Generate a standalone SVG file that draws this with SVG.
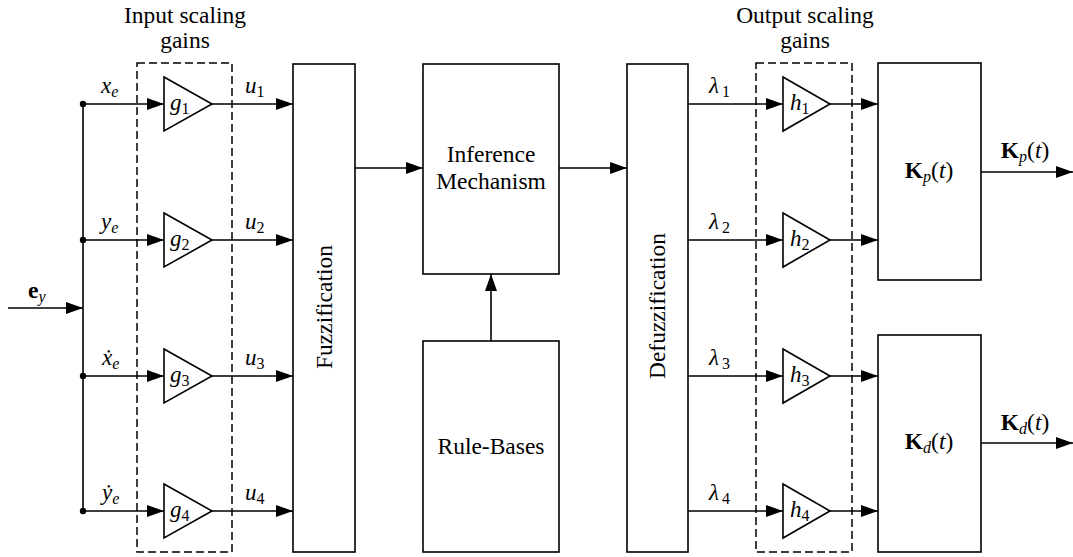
<svg xmlns="http://www.w3.org/2000/svg" width="1073" height="557" viewBox="0 0 1073 557" font-family="Liberation Serif">
  <style>
    .blk { fill: #fff; stroke: #000; stroke-width: 1.6; }
    .ln { fill: none; stroke: #000; stroke-width: 1.6; }
    .arr { fill: none; stroke: #000; stroke-width: 1.6; marker-end: url(#ah); }
    .dash { fill: none; stroke: #000; stroke-width: 1.5; stroke-dasharray: 8 4; }
    .t { font-family: "Liberation Serif", serif; font-size: 23.5px; fill: #000; }
    .m { font-family: "Liberation Serif", serif; font-size: 23px; font-style: italic; fill: #000; }
    .sub { font-size: 16px; font-style: normal; }
    .subi { font-size: 16px; font-style: italic; }
  </style>
  <defs>
    <marker id="ah" markerUnits="userSpaceOnUse" markerWidth="17" markerHeight="12" refX="17" refY="6" orient="auto">
      <path d="M0,0 L17,6 L0,12 Z" fill="#000"/>
    </marker>
  </defs>

  <rect width="1073" height="557" fill="#fff"/>

  <!-- group titles -->
  <text class="t" font-family="Liberation Serif" x="185" y="23" text-anchor="middle">Input scaling</text>
  <text class="t" font-family="Liberation Serif" x="185" y="48" text-anchor="middle">gains</text>
  <text class="t" font-family="Liberation Serif" x="805" y="23" text-anchor="middle">Output scaling</text>
  <text class="t" font-family="Liberation Serif" x="805" y="48" text-anchor="middle">gains</text>

  <!-- dashed frames around the gain stages -->
  <rect class="dash" x="137" y="63" width="95" height="489"/>
  <rect class="dash" x="756" y="63" width="96" height="489"/>

  <!-- connectors -->
  <g id="connectors">
    <line class="arr" x1="8" y1="308" x2="83" y2="308"/>
    <line class="ln" x1="83" y1="104" x2="83" y2="511"/>
    <circle cx="83" cy="104" r="3.2" fill="#000"/>
    <circle cx="83" cy="240" r="3.2" fill="#000"/>
    <circle cx="83" cy="376" r="3.2" fill="#000"/>
    <circle cx="83" cy="511" r="3.2" fill="#000"/>
    <line class="arr" x1="83" y1="104" x2="164" y2="104"/>
    <line class="arr" x1="83" y1="240" x2="164" y2="240"/>
    <line class="arr" x1="83" y1="376" x2="164" y2="376"/>
    <line class="arr" x1="83" y1="511" x2="164" y2="511"/>
    <line class="arr" x1="212" y1="104" x2="293" y2="104"/>
    <line class="arr" x1="212" y1="240" x2="293" y2="240"/>
    <line class="arr" x1="212" y1="376" x2="293" y2="376"/>
    <line class="arr" x1="212" y1="511" x2="293" y2="511"/>
    <line class="arr" x1="355" y1="168" x2="423" y2="168"/>
    <line class="arr" x1="491" y1="341" x2="491" y2="274"/>
    <line class="arr" x1="559" y1="168" x2="627" y2="168"/>
    <line class="arr" x1="688" y1="104" x2="783" y2="104"/>
    <line class="arr" x1="688" y1="240" x2="783" y2="240"/>
    <line class="arr" x1="688" y1="376" x2="783" y2="376"/>
    <line class="arr" x1="688" y1="511" x2="783" y2="511"/>
    <line class="arr" x1="830" y1="104" x2="878" y2="104"/>
    <line class="arr" x1="830" y1="240" x2="878" y2="240"/>
    <line class="arr" x1="830" y1="376" x2="878" y2="376"/>
    <line class="arr" x1="830" y1="511" x2="878" y2="511"/>
    <line class="arr" x1="981" y1="172" x2="1073" y2="172"/>
    <line class="arr" x1="981" y1="443" x2="1073" y2="443"/>
  </g>

  <!-- signal labels -->
  <g id="labels" font-family="Liberation Serif">
    <text class="t" font-family="Liberation Serif" x="28" y="298"><tspan font-weight="bold">e</tspan><tspan class="subi" dy="4">y</tspan></text>
    <text class="m" font-family="Liberation Serif" x="101" y="93">x<tspan class="subi" dy="4">e</tspan></text>
    <text class="m" font-family="Liberation Serif" x="101" y="229">y<tspan class="subi" dy="4">e</tspan></text>
    <text class="m" font-family="Liberation Serif" x="102" y="365">ẋ<tspan class="subi" dy="4">e</tspan></text>
    <text class="m" font-family="Liberation Serif" x="102" y="500">ẏ<tspan class="subi" dy="4">e</tspan></text>
    <text class="m" font-family="Liberation Serif" x="245" y="93">u<tspan class="sub" dy="4">1</tspan></text>
    <text class="m" font-family="Liberation Serif" x="245" y="229">u<tspan class="sub" dy="4">2</tspan></text>
    <text class="m" font-family="Liberation Serif" x="245" y="365">u<tspan class="sub" dy="4">3</tspan></text>
    <text class="m" font-family="Liberation Serif" x="245" y="500">u<tspan class="sub" dy="4">4</tspan></text>
    <text class="m" font-family="Liberation Serif" x="709" y="93">λ<tspan class="sub" dx="3" dy="4">1</tspan></text>
    <text class="m" font-family="Liberation Serif" x="709" y="229">λ<tspan class="sub" dx="3" dy="4">2</tspan></text>
    <text class="m" font-family="Liberation Serif" x="709" y="365">λ<tspan class="sub" dx="3" dy="4">3</tspan></text>
    <text class="m" font-family="Liberation Serif" x="709" y="500">λ<tspan class="sub" dx="3" dy="4">4</tspan></text>
    <text class="t" font-family="Liberation Serif" x="1025" y="158" text-anchor="middle"><tspan font-weight="bold">K</tspan><tspan class="subi" dy="4">p</tspan><tspan dy="-4">(</tspan><tspan font-style="italic">t</tspan>)</text>
    <text class="t" font-family="Liberation Serif" x="1025" y="430" text-anchor="middle"><tspan font-weight="bold">K</tspan><tspan class="subi" dy="4">d</tspan><tspan dy="-4">(</tspan><tspan font-style="italic">t</tspan>)</text>
  </g>

  <!-- input gain stages -->
  <g id="g1"><polygon class="blk" points="164,77 212,104 164,131"/><text class="m" font-family="Liberation Serif" x="170" y="110">g<tspan class="sub" dy="4">1</tspan></text></g>
  <g id="g2"><polygon class="blk" points="164,213 212,240 164,267"/><text class="m" font-family="Liberation Serif" x="170" y="246">g<tspan class="sub" dy="4">2</tspan></text></g>
  <g id="g3"><polygon class="blk" points="164,349 212,376 164,403"/><text class="m" font-family="Liberation Serif" x="170" y="382">g<tspan class="sub" dy="4">3</tspan></text></g>
  <g id="g4"><polygon class="blk" points="164,484 212,511 164,538"/><text class="m" font-family="Liberation Serif" x="170" y="517">g<tspan class="sub" dy="4">4</tspan></text></g>

  <!-- fuzzification -->
  <g id="fuzzification">
    <rect class="blk" x="293" y="64" width="62" height="488"/>
    <text class="t" font-family="Liberation Serif" transform="translate(332,307) rotate(-90)" text-anchor="middle">Fuzzification</text>
  </g>

  <!-- inference mechanism -->
  <g id="inference">
    <rect class="blk" x="423" y="64" width="136" height="210"/>
    <text class="t" font-family="Liberation Serif" x="491" y="162" text-anchor="middle">Inference</text>
    <text class="t" font-family="Liberation Serif" x="491" y="189" text-anchor="middle">Mechanism</text>
  </g>

  <!-- rule bases -->
  <g id="rulebases">
    <rect class="blk" x="423" y="341" width="136" height="211"/>
    <text class="t" font-family="Liberation Serif" x="491" y="454" text-anchor="middle">Rule-Bases</text>
  </g>

  <!-- defuzzification -->
  <g id="defuzzification">
    <rect class="blk" x="627" y="64" width="61" height="488"/>
    <text class="t" font-family="Liberation Serif" transform="translate(665,306) rotate(-90)" text-anchor="middle">Defuzzification</text>
  </g>

  <!-- output gain stages -->
  <g id="h1"><polygon class="blk" points="783,77 830,104 783,131"/><text class="m" font-family="Liberation Serif" x="790" y="110">h<tspan class="sub" dy="4">1</tspan></text></g>
  <g id="h2"><polygon class="blk" points="783,213 830,240 783,267"/><text class="m" font-family="Liberation Serif" x="790" y="246">h<tspan class="sub" dy="4">2</tspan></text></g>
  <g id="h3"><polygon class="blk" points="783,349 830,376 783,403"/><text class="m" font-family="Liberation Serif" x="790" y="382">h<tspan class="sub" dy="4">3</tspan></text></g>
  <g id="h4"><polygon class="blk" points="783,484 830,511 783,538"/><text class="m" font-family="Liberation Serif" x="790" y="517">h<tspan class="sub" dy="4">4</tspan></text></g>

  <!-- gain matrices -->
  <g id="kp">
    <rect class="blk" x="878" y="63" width="103" height="217"/>
    <text class="t" font-family="Liberation Serif" x="929" y="178" text-anchor="middle"><tspan font-weight="bold">K</tspan><tspan class="subi" dy="4">p</tspan><tspan dy="-4">(</tspan><tspan font-style="italic">t</tspan>)</text>
  </g>
  <g id="kd">
    <rect class="blk" x="878" y="335" width="103" height="217"/>
    <text class="t" font-family="Liberation Serif" x="929" y="449" text-anchor="middle"><tspan font-weight="bold">K</tspan><tspan class="subi" dy="4">d</tspan><tspan dy="-4">(</tspan><tspan font-style="italic">t</tspan>)</text>
  </g>
</svg>
